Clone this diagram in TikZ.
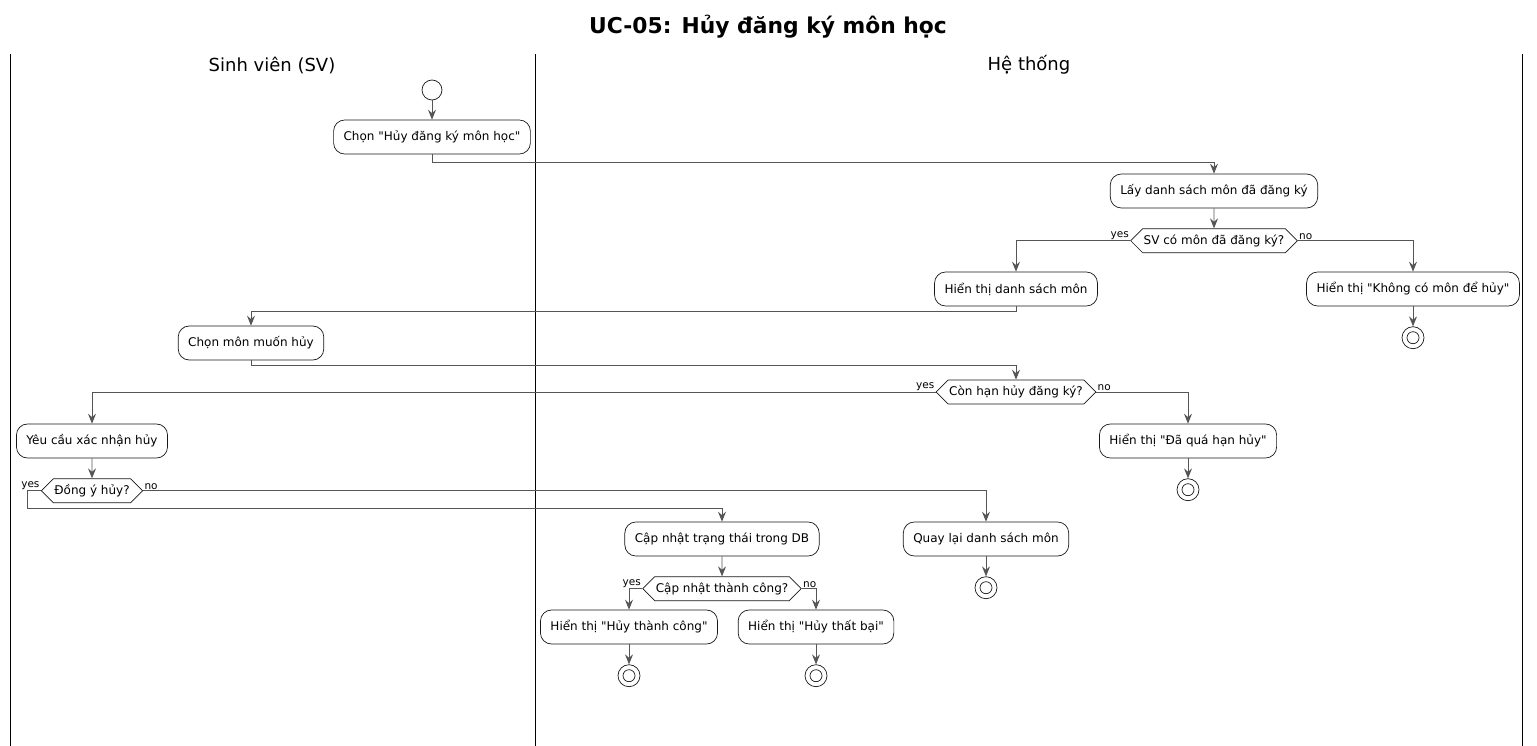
\documentclass[tikz,border=0pt]{standalone}
\usepackage{fontspec}
\setmainfont{DejaVu Sans}
\usetikzlibrary{positioning, shapes.symbols, arrows.meta}
\definecolor{edgegray}{HTML}{555555}
\definecolor{boxline}{HTML}{181818}

\begin{document}
\begin{tikzpicture}[x=1pt, y=-1pt,
        act/.style={draw=boxline, line width=0.7pt, fill=white, rounded corners=11pt, minimum height=34pt, inner xsep=10pt, font=\fontsize{12}{14}\selectfont},
        dec/.style={draw=boxline, line width=0.7pt, fill=white, signal, signal to=east and west, minimum height=24pt, inner xsep=1pt, inner ysep=0pt, font=\fontsize{12}{14}\selectfont},
        begin/.style={draw=boxline, line width=0.7pt, circle, minimum size=20pt, inner sep=0pt},
        ende/.style={draw=boxline, line width=0.7pt, circle, minimum size=22pt, inner sep=0pt, path picture={\draw[boxline, line width=0.7pt] (path picture bounding box.center) circle (6pt);}},
        flow/.style={draw=edgegray, line width=0.8pt, -{Stealth[length=10pt, width=8pt, inset=3.5pt]}},
        lbl/.style={font=\fontsize{10.5}{12}\selectfont, inner sep=1pt},
        lane/.style={font=\fontsize{18}{20}\selectfont}
    ]
        \useasboundingbox (0,0) rectangle (1537,746);

        \node[font=\bfseries\fontsize{21.8}{25}\selectfont](title) at (768,27){UC-05: Hủy đăng ký môn học};
        \node[lane](lane1) at (272,65){Sinh viên (SV)};
        \node[lane](lane2) at (1029,65){Hệ thống};
        \draw (10,54) -- (10,746);
        \draw (535,54) -- (535,746);
        \draw (1522,54) -- (1522,746);

        \node[begin](q0) at (432,90){};
        \node[act](q1) at (432,137){Chọn \textquotedbl Hủy đăng ký môn học\textquotedbl};
        \node[act](q2) at (1214,191){Lấy danh sách môn đã đăng ký};
        \node[dec, below = 20pt of q2](q3){SV có môn đã đăng ký?};
        \node[act](q4) at (1016,289){Hiển thị danh sách môn};
        \node[act](q5) at (1413,289){Hiển thị \textquotedbl Không có môn để hủy\textquotedbl};
        \node[ende, below = 20pt of q5](q6){};
        \node[act](q7) at (251,343){Chọn môn muốn hủy};
        \node[dec](q8) at (1016,392){Còn hạn hủy đăng ký?};
        \node[act](q9) at (92,441){Yêu cầu xác nhận hủy};
        \node[act](q10) at (1188,441){Hiển thị \textquotedbl Đã quá hạn hủy\textquotedbl};
        \node[ende, below = 20pt of q10](q11){};
        \node[dec, below = 20pt of q9](q12){Đồng ý hủy?};
        \node[act](q13) at (722,539){Cập nhật trạng thái trong DB};
        \node[act](q14) at (986,539){Quay lại danh sách môn};
        \node[ende, below = 20pt of q14](q15){};
        \node[dec, below = 20pt of q13](q16){Cập nhật thành công?};
        \node[act](q17) at (629,627){Hiển thị \textquotedbl Hủy thành công\textquotedbl};
        \node[act](q18) at (816,627){Hiển thị \textquotedbl Hủy thất bại\textquotedbl};
        \node[ende, below = 20pt of q17](q19){};
        \node[ende, below = 20pt of q18](q20){};

        \draw[flow] (q0) -- (q1);
        \draw[flow] (q1.south) -- ++(0,8) -| (q2.north);
        \draw[flow] (q2) -- (q3);
        \draw[flow] (q3.west) node[lbl, anchor=south east]{yes} -| (q4.north);
        \draw[flow] (q3.east) node[lbl, anchor=south west]{no} -| (q5.north);
        \draw[flow] (q5) -- (q6);
        \draw[flow] (q4.south) -- ++(0,5) -| (q7.north);
        \draw[flow] (q7.south) -- ++(0,5) -| (q8.north);
        \draw[flow] (q8.west) node[lbl, anchor=south east]{yes} -| (q9.north);
        \draw[flow] (q8.east) node[lbl, anchor=south west]{no} -| (q10.north);
        \draw[flow] (q10) -- (q11);
        \draw[flow] (q9) -- (q12);
        \draw[flow] (q12.west) node[lbl, anchor=south east]{yes} -- ++(-13,0) -- ++(0,18) -| (q13.north);
        \draw[flow] (q12.east) node[lbl, anchor=south west]{no} -| (q14.north);
        \draw[flow] (q14) -- (q15);
        \draw[flow] (q13) -- (q16);
        \draw[flow] (q16.west) node[lbl, anchor=south east]{yes} -| (q17.north);
        \draw[flow] (q16.east) node[lbl, anchor=south west]{no} -| (q18.north);
        \draw[flow] (q17) -- (q19);
        \draw[flow] (q18) -- (q20);

    \end{tikzpicture}
\end{document}
